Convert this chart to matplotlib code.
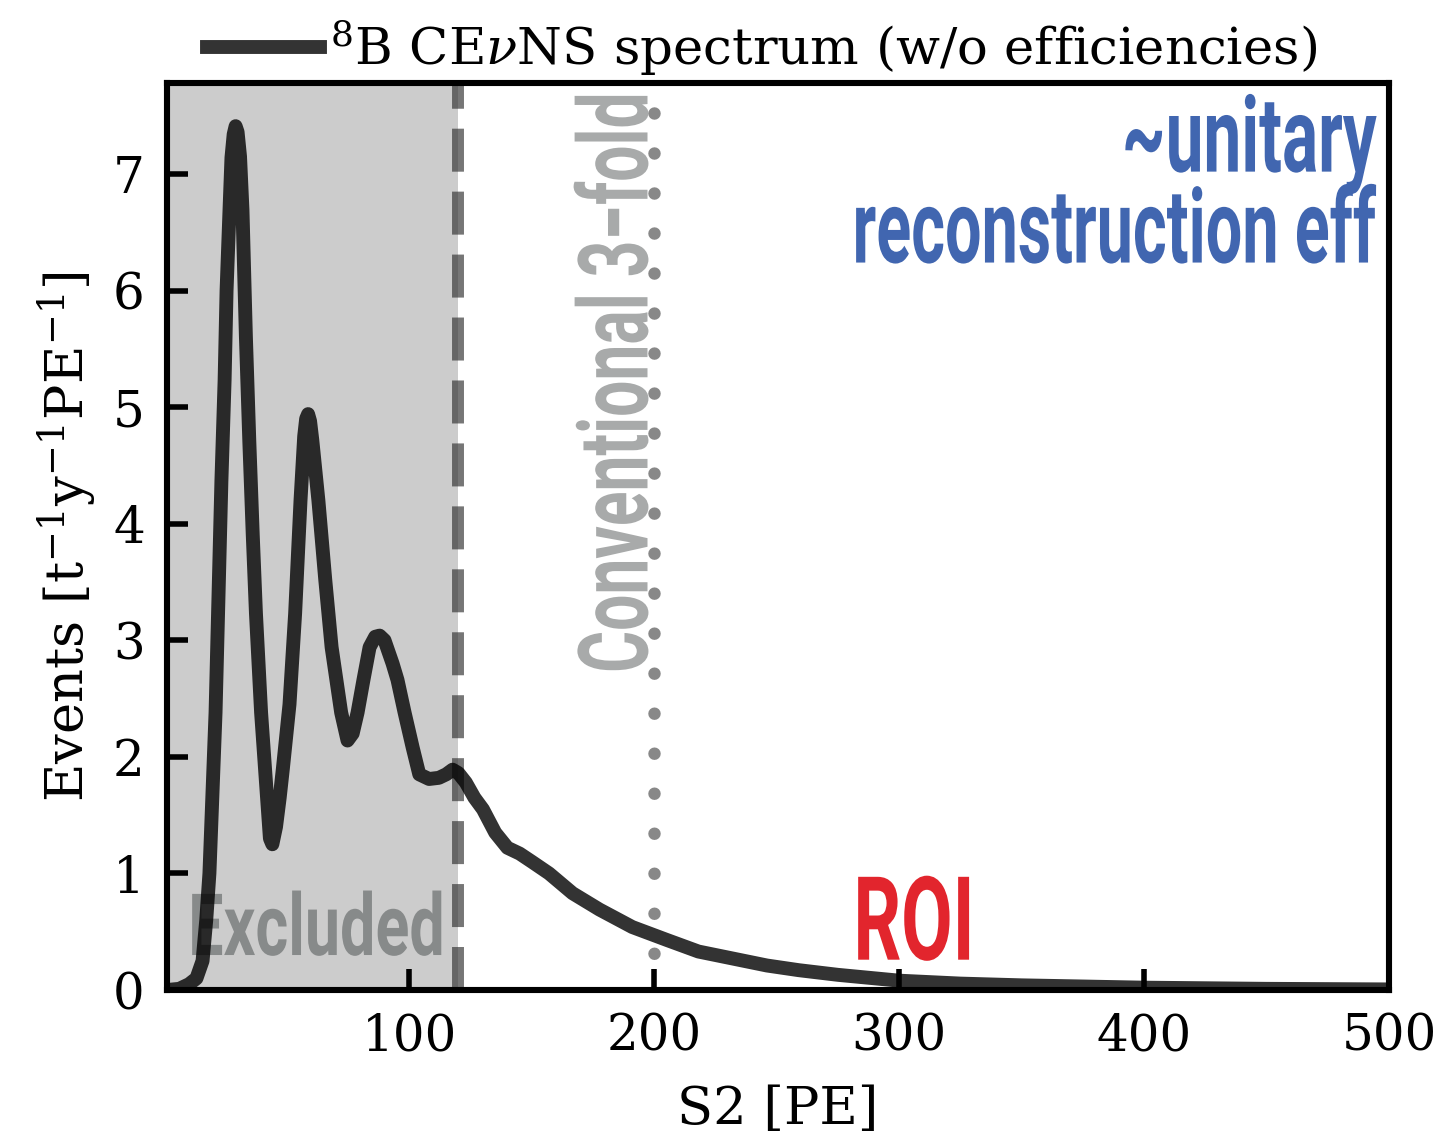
import numpy as np
import matplotlib
matplotlib.use("Agg")
import matplotlib.pyplot as plt
from matplotlib.patheffects import AbstractPathEffect
from matplotlib.transforms import Affine2D

plt.rcParams['font.family'] = 'DejaVu Serif'
plt.rcParams['mathtext.fontset'] = 'dejavuserif'

# 8B CEvNS spectrum
s2_pe = [1, 6, 10, 13, 15.5, 17, 18.3, 20.8, 23.2, 24.5, 25.3, 26.5, 27.3, 28.2, 29.0,
         29.8, 30.8, 31.8, 33.2, 34.6, 36.0, 37.3, 39.4, 41.5, 43.0, 44.0, 45.5, 47.0,
         48.3, 51.0, 53.3, 55.5, 57.0, 57.8, 58.6, 59.4, 60.3, 62.8, 65.6, 68.2, 72.1, 74.7,
         76.8, 78.8, 81.2, 83.7, 86.0, 87.8, 89.8, 93.1, 95.1, 98.0, 101.3, 104,
         108, 112, 115, 117.6, 120, 123, 126.5, 130, 135, 140, 145, 150, 157, 166.6,
         177.6, 191, 205, 218, 232, 246, 259, 275, 300, 325, 350, 400, 450, 500]
rate = [0.0, 0.01, 0.05, 0.1, 0.25, 0.6, 1.0, 2.38, 4.37, 5.23, 6.0, 6.69, 7.14, 7.34, 7.41,
        7.36, 7.15, 6.69, 5.6, 4.7, 3.9, 3.23, 2.38, 1.75, 1.3, 1.25, 1.4, 1.65,
        1.9, 2.45, 3.23, 4.2, 4.75, 4.9, 4.94, 4.88, 4.72, 4.2, 3.52, 2.94, 2.38, 2.14,
        2.2, 2.38, 2.66, 2.94, 3.03, 3.04, 3.0, 2.8, 2.66, 2.38, 2.08, 1.85,
        1.81, 1.82, 1.85, 1.89, 1.86, 1.78, 1.65, 1.55, 1.35, 1.22, 1.17, 1.1, 1.0, 0.83,
        0.69, 0.54, 0.43, 0.33, 0.27, 0.21, 0.17, 0.13, 0.08, 0.055, 0.04, 0.02, 0.01, 0.005]

s2_threshold = 120   # excluded region edge
s2_3fold = 200       # conventional 3-fold threshold
xticks = [100, 200, 300, 400, 500]
yticks = [0, 1, 2, 3, 4, 5, 6, 7]


class Tall(AbstractPathEffect):
    """stretch glyphs upward from the baseline -> condensed-looking text"""
    def __init__(self, sy):
        super().__init__()
        self.sy = sy

    def draw_path(self, renderer, gc, tpath, affine, rgbFace=None):
        t = Affine2D().scale(1, self.sy) + affine
        renderer.draw_path(gc, tpath, Affine2D(t.get_matrix()), rgbFace)


fig = plt.figure(figsize=(7.17, 5.71), dpi=200)
ax = fig.add_axes([0.1165, 0.1331, 0.8521, 0.7942])

ax.axvspan(0, s2_threshold, color='#cccccc', lw=0, zorder=0)
ax.plot(s2_pe, rate, color='black', alpha=0.8, lw=5.0, solid_joinstyle='round',
        label=r'$^8$B CE$\nu$NS spectrum (w/o efficiencies)', zorder=3)
ax.axvline(s2_threshold, color='#333333', alpha=0.67, lw=4.3,
           linestyle=(0, (3.6, 1.67)), zorder=2.5)
ax.plot([s2_3fold, s2_3fold], [7.52, 0.25], color='#888888', lw=4.5,
        linestyle=(0, (0.001, 3.2)), dash_capstyle='round', zorder=2.5)

cond = 'Roboto'
ax.text(62, 0.30, 'Excluded', color='#878a8a', fontsize=22.6, fontweight='bold',
        family=cond, ha='center', va='baseline', zorder=1.5,
        path_effects=[Tall(1.37)])
ax.text(306, 0.26, 'ROI', color='#e2252d', fontsize=26.9, fontweight='bold',
        family=cond, ha='center', va='baseline', zorder=1.5,
        path_effects=[Tall(1.56)])
ax.text(197.2, 5.21, 'Conventional 3\u2212fold', color='#a8aaaa', fontsize=23.1,
        fontweight='bold', family=cond, rotation=90, rotation_mode='anchor',
        ha='center', va='baseline', zorder=1.5,
        path_effects=[Tall(1.515)])
ax.text(494.9, 7.02, '~unitary', color='#4166b0', fontsize=24.3, fontweight='bold',
        family=cond, ha='right', va='baseline', zorder=1.5,
        path_effects=[Tall(1.56)])
ax.text(494.9, 6.24, 'reconstruction eff', color='#4166b0', fontsize=23.3,
        fontweight='bold', family=cond, ha='right', va='baseline', zorder=1.5,
        path_effects=[Tall(1.6)])

ax.set_xlim(1, 500)
ax.set_ylim(0, 7.78)
ax.set_xticks(xticks)
ax.set_yticks(yticks)
ax.tick_params(direction='in', length=7.5, width=2, labelsize=18, pad=8,
               top=False, right=False)
for sp in ax.spines.values():
    sp.set_linewidth(2.2)
ax.set_xlabel('S2 [PE]', fontsize=19, labelpad=8)
ax.set_ylabel(r'Events [t$^{-1}$y$^{-1}$PE$^{-1}$]', fontsize=19, labelpad=5)

ax.legend(loc='lower center', bbox_to_anchor=(0.487, 1.0), frameon=False,
          fontsize=18.5, handlelength=2.2, handletextpad=0.2, borderaxespad=0.0,
          borderpad=0.1)

fig.savefig('out.png', dpi=200)
